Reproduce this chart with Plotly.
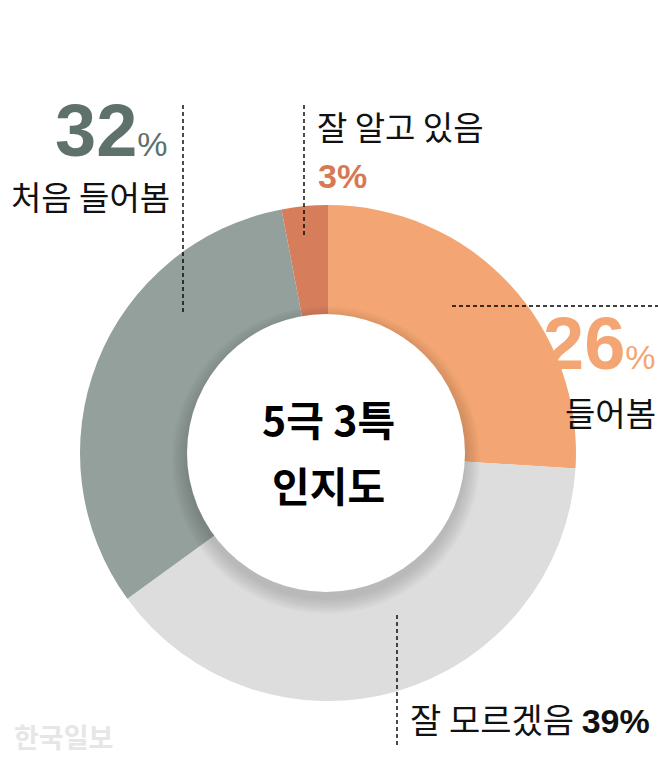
import plotly.graph_objects as go

W, H = 658, 764

labels = ["들어봄", "잘 모르겠음", "처음 들어봄", "잘 알고 있음"]
values = [26, 39, 32, 3]
colors = ["#F3A673", "#DCDDDC", "#93A09B", "#D67E5C"]
title_lines = ["5극 3특", "인지도"]

CX, CY, R, RIN = 328, 453, 248, 139

def px(x):
    return x / W

def py(y):
    return 1 - y / H

fig = go.Figure()
fig.add_trace(go.Pie(
    labels=labels, values=values, sort=False, direction="clockwise", rotation=0,
    marker=dict(colors=colors, line=dict(width=0)), hole=0.5, textinfo="none",
    hoverinfo="label+percent", showlegend=False,
    domain=dict(x=[px(CX - R), px(CX + R)], y=[py(CY + R), py(CY - R)]),
))

shapes = []
# soft shadow under the centre disc
for k in range(8):
    r = RIN + 1 + k * 2.0
    off = 7
    shapes.append(dict(type="circle", xref="paper", yref="paper",
                       x0=px(CX - 2 - r), x1=px(CX - 2 + r), y0=py(CY + off + r), y1=py(CY + off - r),
                       fillcolor="rgba(0,0,0,0.02)", line=dict(width=0), layer="above"))
shapes.append(dict(type="circle", xref="paper", yref="paper",
                   x0=px(CX - 2 - RIN), x1=px(CX - 2 + RIN), y0=py(CY + RIN), y1=py(CY - RIN),
                   fillcolor="white", line=dict(width=0), layer="above"))

dash = dict(color="#000", width=1.4, dash="4px,3px")
for (x0, y0, x1, y1) in [(183, 105, 183, 315), (304, 105, 304, 238),
                         (452, 306, 658, 306), (397, 615, 397, 745)]:
    shapes.append(dict(type="line", xref="paper", yref="paper",
                       x0=px(x0), x1=px(x1), y0=py(y0), y1=py(y1), line=dash, layer="above"))

LAT = "Liberation Sans, Noto Sans CJK KR, sans-serif"
KR = "Noto Sans CJK KR, sans-serif"

ann = []
def A(text, x, y, size, color="#111", xanchor="left", family=KR, bold=False):
    if bold:
        text = "<b>" + text + "</b>"
    ann.append(dict(text=text, x=px(x), y=py(y), xref="paper", yref="paper",
                    xanchor=xanchor, yanchor="middle", showarrow=False,
                    font=dict(size=size, color=color, family=family)))

A(f"<b>{values[2]}</b><span style='font-size:34px'>%</span>", 170, 130, 74, "#5E716B", "right", LAT)
A(labels[2], 172, 196, 33, "#111", "right")
A("잘 알고 있음", 315, 126, 33)
A(f"<b>{values[3]}%</b>", 316, 176, 34, "#D67A55", "left", LAT)
A(f"<b>{values[0]}</b><span style='font-size:34px'>%</span>", 658, 343, 74, "#F3A673", "right", LAT)
A(labels[0], 658, 412, 33, "#111", "right")
A(f"잘 모르겠음 <b><span style='font-family:Liberation Sans'>{values[1]}%</span></b>", 408, 718, 34)
A("한국일보", 12, 736, 27, "#E6E6E6", "left", KR, True)
A(title_lines[0], CX, 418, 41, "#000", "center", KR, True)
A(title_lines[1], CX, 484, 41, "#000", "center", KR, True)

fig.update_layout(width=W, height=H, margin=dict(l=0, r=0, t=0, b=0),
                  paper_bgcolor="white", plot_bgcolor="white",
                  shapes=shapes, annotations=ann)
fig.write_html("out.html", config={"displayModeBar": False},
               post_script="document.body.style.margin='0';")
